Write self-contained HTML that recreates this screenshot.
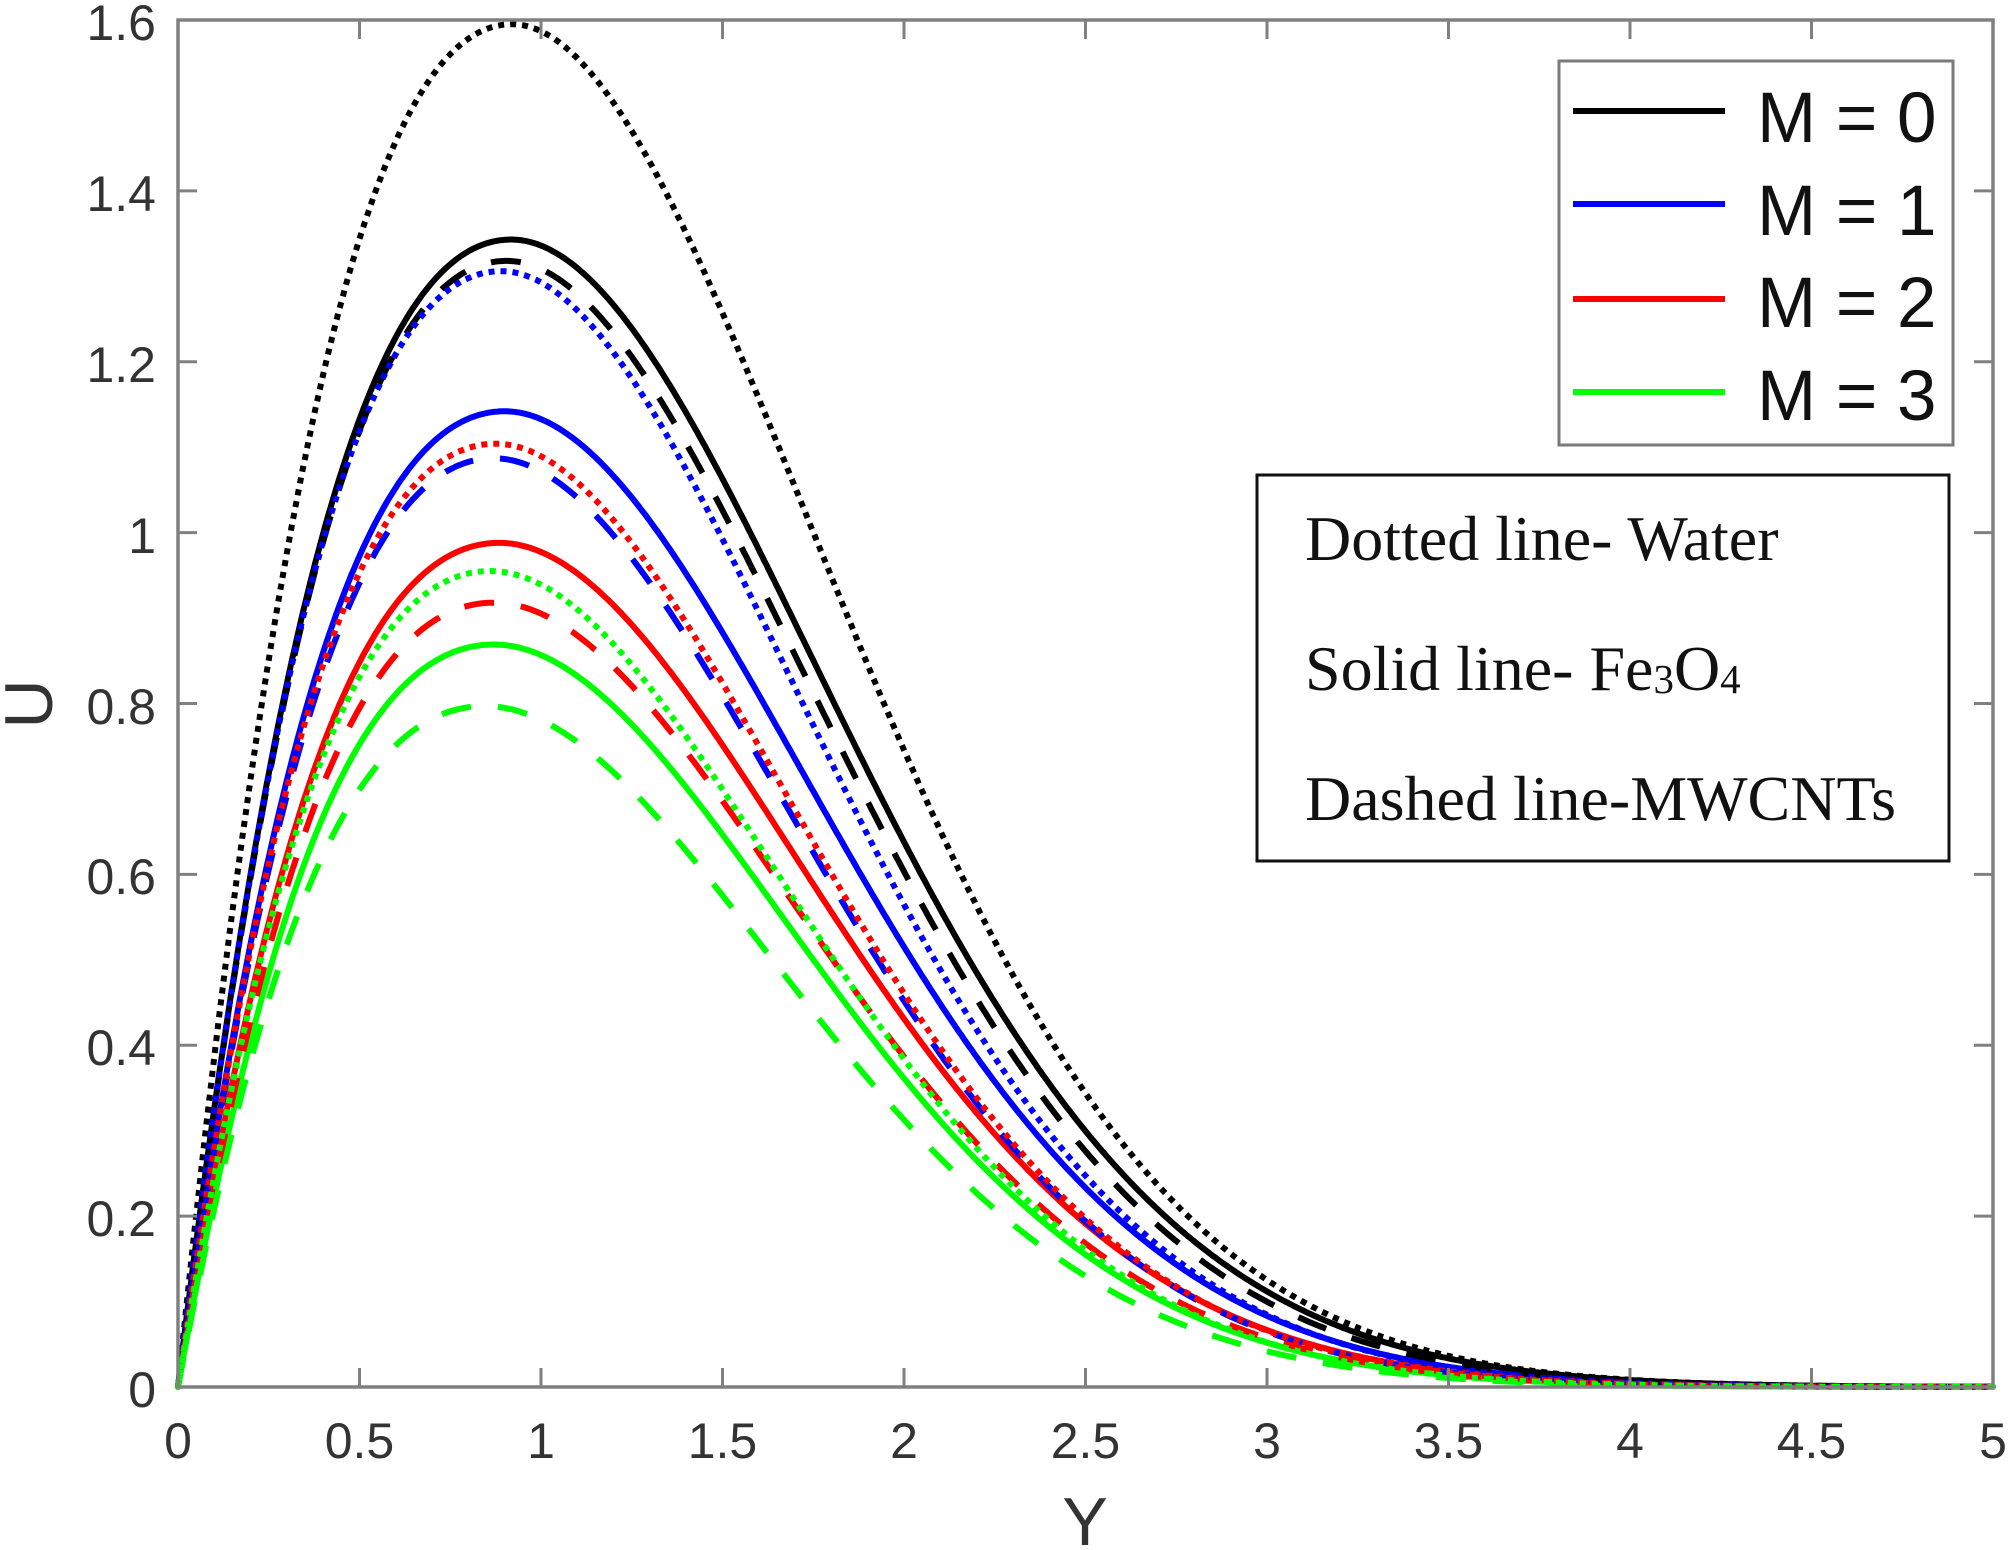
<!DOCTYPE html>
<html>
<head>
<meta charset="utf-8">
<style>
  html, body { margin: 0; padding: 0; background: #ffffff; }
  body { width: 2008px; height: 1550px; overflow: hidden; }
  svg { display: block; }
  .tick { font-family: "Liberation Sans", Arial, sans-serif; font-size: 50px; fill: #333333; }
  .lab { font-family: "Liberation Sans", Arial, sans-serif; font-size: 68px; fill: #333333; }
  .leg { font-family: "Liberation Sans", Arial, sans-serif; font-size: 71px; fill: #111111; }
  .info { font-family: "Liberation Serif", "Times New Roman", serif; font-size: 64px; fill: #111111; }
</style>
</head>
<body>
<svg id="chart" xmlns="http://www.w3.org/2000/svg" width="2008" height="1550" viewBox="0 0 2008 1550">
  <rect x="0" y="0" width="2008" height="1550" fill="#ffffff"/>
  <defs>
    <clipPath id="plotclip">
      <rect x="172" y="14" width="1827" height="1379"/>
    </clipPath>
  </defs>

  <!-- curves (generated) -->
  <g id="curves" clip-path="url(#plotclip)" fill="none" stroke-width="6"></g>

  <!-- axes box -->
  <rect x="178" y="20" width="1815" height="1367" fill="none" stroke="#808080" stroke-width="3.5"/>
  <g id="ticks" stroke="#808080" stroke-width="3"></g>

  <!-- x tick labels -->
  <g class="tick" text-anchor="middle">
    <text x="178" y="1458">0</text>
    <text x="359.5" y="1458">0.5</text>
    <text x="541" y="1458">1</text>
    <text x="722.5" y="1458">1.5</text>
    <text x="904" y="1458">2</text>
    <text x="1085.5" y="1458">2.5</text>
    <text x="1267" y="1458">3</text>
    <text x="1448.5" y="1458">3.5</text>
    <text x="1630" y="1458">4</text>
    <text x="1811.5" y="1458">4.5</text>
    <text x="1993" y="1458">5</text>
  </g>
  <!-- y tick labels -->
  <g class="tick" text-anchor="end">
    <text x="156" y="1407">0</text>
    <text x="156" y="1236">0.2</text>
    <text x="156" y="1065">0.4</text>
    <text x="156" y="894">0.6</text>
    <text x="156" y="724">0.8</text>
    <text x="156" y="553">1</text>
    <text x="156" y="382">1.2</text>
    <text x="156" y="211">1.4</text>
    <text x="156" y="40">1.6</text>
  </g>

  <!-- axis labels -->
  <text class="lab" x="1085" y="1545" text-anchor="middle">Y</text>
  <text class="lab" transform="translate(52,704) rotate(-90)" text-anchor="middle">U</text>

  <!-- legend -->
  <rect x="1559" y="61" width="394" height="384" fill="#ffffff" stroke="#7a7a7a" stroke-width="3"/>
  <line x1="1573" y1="111" x2="1725" y2="111" stroke="#000000" stroke-width="6"/>
  <line x1="1573" y1="204" x2="1725" y2="204" stroke="#0000ff" stroke-width="6"/>
  <line x1="1573" y1="299" x2="1725" y2="299" stroke="#ff0000" stroke-width="6"/>
  <line x1="1573" y1="392" x2="1725" y2="392" stroke="#00ff00" stroke-width="6"/>
  <text class="leg" x="1757" y="142">M = 0</text>
  <text class="leg" x="1757" y="235">M = 1</text>
  <text class="leg" x="1757" y="327">M = 2</text>
  <text class="leg" x="1757" y="420">M = 3</text>

  <!-- info box -->
  <rect x="1257" y="475" width="692" height="386" fill="#ffffff" stroke="#111111" stroke-width="3"/>
  <text class="info" x="1305" y="560">Dotted line- Water</text>
  <text class="info" x="1305" y="690">Solid line- Fe<tspan font-size="41" dy="3">3</tspan><tspan dy="-3">O</tspan><tspan font-size="41" dy="3">4</tspan></text>
  <text class="info" x="1305" y="820">Dashed line-MWCNTs</text>
</svg>

<script>
(function () {
  var NS = "http://www.w3.org/2000/svg";
  var X0 = 178, XS = 363, Y0 = 1387, YS = 854.4;
  function px(Y) { return X0 + Y * XS; }
  function py(U) { return Y0 - U * YS; }

  // ticks
  var tg = document.getElementById("ticks");
  function line(x1, y1, x2, y2) {
    var l = document.createElementNS(NS, "line");
    l.setAttribute("x1", x1); l.setAttribute("y1", y1);
    l.setAttribute("x2", x2); l.setAttribute("y2", y2);
    tg.appendChild(l);
  }
  for (var i = 1; i < 10; i++) {
    var x = px(i * 0.5);
    line(x, Y0, x, Y0 - 19);
    line(x, 20, x, 39);
  }
  for (var j = 1; j < 8; j++) {
    var y = py(j * 0.2);
    line(X0, y, X0 + 19, y);
    line(1993, y, 1993 - 19, y);
  }

  function f(Y, A, p, pR) {
    if (Y <= 0) return 0;
    var r = Y / p, g;
    var cL = 1.15, cR = 2.0;
    if (r <= 1) g = Math.log(r) + (1 - Math.pow(r, cL)) / cL;
    else g = pR * (Math.log(r) + (1 - Math.pow(r, cR)) / cR);
    return A * Math.exp(g);
  }

  var K = "#000000", B = "#0000ff", R = "#ff0000", G = "#00ff00";
  var SOLID = null, DASH = "30 27", DOT = "6 6";
  var series = [
    // solid: Fe3O4
    [K, SOLID, 1.343, 0.918, 0.68],
    [B, SOLID, 1.142, 0.900, 0.68],
    [R, SOLID, 0.988, 0.885, 0.67],
    [G, SOLID, 0.869, 0.870, 0.67],
    // dashed: MWCNTs
    [K, DASH, 1.318, 0.905, 0.68],
    [B, DASH, 1.087, 0.870, 0.67],
    [R, DASH, 0.918, 0.870, 0.66],
    [G, DASH, 0.797, 0.845, 0.65],
    // dotted: Water
    [K, DOT, 1.595, 0.920, 0.70],
    [B, DOT, 1.306, 0.890, 0.69],
    [R, DOT, 1.104, 0.875, 0.68],
    [G, DOT, 0.955, 0.860, 0.67]
  ];
  var cg = document.getElementById("curves");
  series.forEach(function (s) {
    var d = "";
    var n = 1000;
    for (var k = 0; k <= n; k++) {
      var Y = 5 * k / n;
      var U = f(Y, s[2], s[3], s[4]);
      d += (k === 0 ? "M" : "L") + px(Y).toFixed(1) + "," + py(U).toFixed(1);
    }
    var p = document.createElementNS(NS, "path");
    p.setAttribute("d", d);
    p.setAttribute("stroke", s[0]);
    p.setAttribute("stroke-width", "6");
    p.setAttribute("fill", "none");
    p.setAttribute("stroke-linejoin", "round");
    if (s[1]) {
      p.setAttribute("stroke-dasharray", s[1]);
      p.setAttribute("stroke-linecap", "butt");
    } else {
      p.setAttribute("stroke-linecap", "round");
    }
    cg.appendChild(p);
  });
})();
</script>
</body>
</html>
